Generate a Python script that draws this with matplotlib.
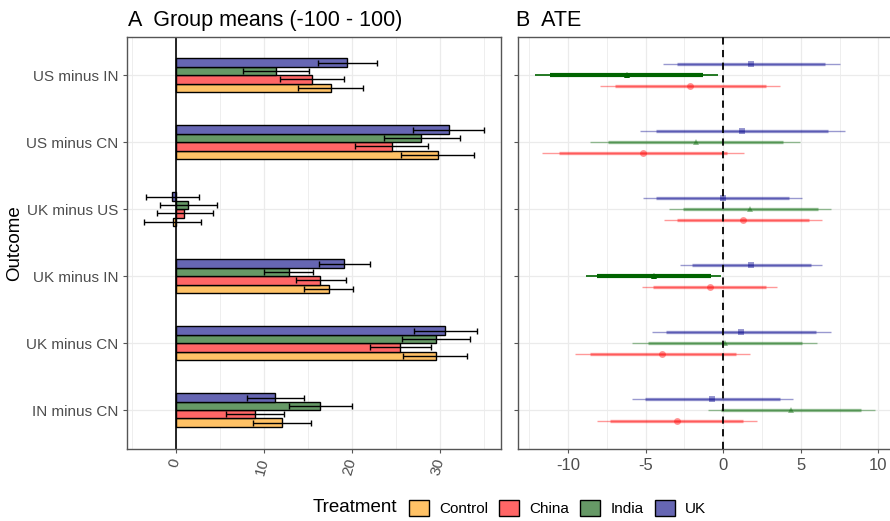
import numpy as np
import matplotlib
matplotlib.use("Agg")
import matplotlib.pyplot as plt
from matplotlib.patches import Patch

plt.rcParams['font.family'] = ['Liberation Sans', 'DejaVu Sans']
plt.rcParams['axes.unicode_minus'] = False

outcomes = ["US minus IN", "US minus CN", "UK minus US", "UK minus IN", "UK minus CN", "IN minus CN"]
treatments = ["Control", "China", "India", "UK"]

# panel A: group means with intervals (outcome order top to bottom)
control_mean = [17.6, 29.8, -0.3, 17.35, 29.5, 12.0]
control_lo = [13.9, 25.6, -3.6, 14.5, 25.8, 8.8]
control_hi = [21.3, 33.9, 2.9, 20.1, 33.1, 15.3]
china_mean = [15.45, 24.5, 0.95, 16.4, 25.5, 9.0]
china_lo = [11.8, 20.4, -2.2, 13.6, 22.0, 5.7]
china_hi = [19.1, 28.6, 4.2, 19.3, 29.0, 12.3]
india_mean = [11.4, 27.9, 1.4, 12.8, 29.6, 16.4]
india_lo = [7.65, 23.6, -1.8, 10.0, 25.7, 12.9]
india_hi = [15.1, 32.3, 4.7, 15.6, 33.4, 20.0]
uk_mean = [19.4, 31.0, -0.4, 19.1, 30.6, 11.3]
uk_lo = [16.1, 26.9, -3.45, 16.2, 27.0, 8.1]
uk_hi = [22.8, 35.0, 2.65, 22.1, 34.2, 14.6]

# panel B: ATE vs control, estimate + inner and outer intervals
china_est = [-2.15, -5.2, 1.27, -0.88, -3.93, -2.99]
china_lo_in = [-7.0, -10.6, -2.97, -4.52, -8.6, -7.31]
china_hi_in = [2.73, 0.24, 5.53, 2.78, 0.8, 1.29]
china_lo_out = [-7.95, -11.7, -3.83, -5.23, -9.55, -8.13]
china_hi_out = [3.68, 1.32, 6.35, 3.48, 1.72, 2.15]
india_est = [-6.23, -1.78, 1.72, -4.47, 0.11, 4.37]
india_lo_in = [-11.14, -7.46, -2.62, -8.13, -4.86, -0.15]
india_hi_in = [-1.29, 3.87, 6.09, -0.81, 5.1, 8.86]
india_lo_out = [-12.13, -8.58, -3.48, -8.86, -5.85, -0.99]
india_hi_out = [-0.32, 4.95, 6.95, -0.13, 6.07, 9.77]
uk_est = [1.81, 1.23, -0.04, 1.81, 1.14, -0.71]
uk_lo_in = [-2.97, -4.34, -4.34, -2.04, -3.7, -5.05]
uk_hi_in = [6.58, 6.75, 4.22, 5.66, 5.98, 3.64]
uk_lo_out = [-3.91, -5.39, -5.18, -2.8, -4.62, -5.89]
uk_hi_out = [7.53, 7.83, 5.06, 6.39, 6.95, 4.48]

fill_colors = {"Control": "#FFC266", "China": "#FF6666", "India": "#669966", "UK": "#6666B3"}
line_colors = {"China": "#FF0000", "India": "#006400", "UK": "#00008B"}
markers = {"China": "o", "India": "^", "UK": "s"}

border = "#555555"
grid_c = "#EBEBEB"
tick_c = "#4D4D4D"

fig = plt.figure(figsize=(8.9, 5.21), dpi=100)
axA = fig.add_axes([127.3 / 890, 1 - 449.3 / 521, 373.4 / 890, 412.3 / 521])
axB = fig.add_axes([518 / 890, 1 - 449.3 / 521, 374 / 890, 412.3 / 521])

y = np.arange(len(outcomes))[::-1] + 1.0

for ax in (axA, axB):
    ax.set_ylim(0.415, 6.57)
    ax.set_yticks(y)
    ax.grid(True, which='major', color=grid_c, lw=0.9)
    ax.grid(True, which='minor', axis='x', color=grid_c, lw=0.6)
    ax.set_axisbelow(True)
    for s in ax.spines.values():
        s.set_color(border)
        s.set_linewidth(1.0)
    ax.tick_params(which='major', length=3, color=border, labelcolor=tick_c, labelsize=11)
    ax.tick_params(which='minor', length=0)

# --- panel A
bar_h = 0.125
means = {"Control": control_mean, "China": china_mean, "India": india_mean, "UK": uk_mean}
los = {"Control": control_lo, "China": china_lo, "India": india_lo, "UK": uk_lo}
his = {"Control": control_hi, "China": china_hi, "India": india_hi, "UK": uk_hi}
for k, t in enumerate(treatments):
    yy = y + (k - 1.5) * bar_h
    m = np.array(means[t])
    axA.barh(yy, m, height=bar_h, color=fill_colors[t], edgecolor="black", linewidth=1.0, zorder=2)
    axA.errorbar(m, yy, xerr=[m - np.array(los[t]), np.array(his[t]) - m], fmt='none',
                 ecolor="black", elinewidth=1.0, capsize=2.5, capthick=1.0, zorder=3)
axA.axvline(0, color="black", lw=1.2, zorder=2.5)
axA.set_xlim(-5.53, 36.9)
axA.set_xticks([0, 10, 20, 30])
axA.set_xticks([-5, 5, 15, 25, 35], minor=True)
axA.set_yticklabels(outcomes)
for lab in axA.get_xticklabels():
    lab.set_rotation(75)
    lab.set_rotation_mode('anchor')
    lab.set_ha('right')
    lab.set_va('center')

# --- panel B
axB.axvline(0, color="black", lw=1.3, ls=(0, (4, 3)), zorder=4)
est = {"China": china_est, "India": india_est, "UK": uk_est}
lo_in = {"China": china_lo_in, "India": india_lo_in, "UK": uk_lo_in}
hi_in = {"China": china_hi_in, "India": india_hi_in, "UK": uk_hi_in}
lo_out = {"China": china_lo_out, "India": india_lo_out, "UK": uk_lo_out}
hi_out = {"China": china_hi_out, "India": india_hi_out, "UK": uk_hi_out}
offsets = {"China": -0.165, "India": 0.0, "UK": 0.165}
for t in ["China", "India", "UK"]:
    for i in range(len(outcomes)):
        yy = y[i] + offsets[t]
        sig = hi_out[t][i] < 0 or lo_out[t][i] > 0
        a = 1.0 if sig else 0.4
        c = line_colors[t]
        axB.plot([lo_out[t][i], hi_out[t][i]], [yy, yy], color=c, alpha=a, lw=1.2 if sig else 1.0,
                 solid_capstyle='butt', zorder=3)
        axB.plot([lo_in[t][i], hi_in[t][i]], [yy, yy], color=c, alpha=a, lw=3.0 if sig else 2.4,
                 solid_capstyle='butt', zorder=3)
        axB.plot(est[t][i], yy, marker=markers[t], color=c, alpha=a, ms=5, mew=0, zorder=3)
axB.set_xlim(-13.23, 10.88)
axB.set_xticks([-10, -5, 0, 5, 10])
axB.set_xticks([-12.5, -7.5, -2.5, 2.5, 7.5], minor=True)
axB.set_yticklabels([])
axB.tick_params(axis='x', labelsize=12)

# titles and labels
fig.text(128 / 890, 1 - 26 / 521, "A  Group means (-100 - 100)", fontsize=15.5, va='baseline', ha='left')
fig.text(516 / 890, 1 - 26 / 521, "B  ATE", fontsize=15.5, va='baseline', ha='left')
fig.text(15 / 890, 1 - 243 / 521, "Outcome", fontsize=13.5, rotation=90, va='center', ha='center')

# legend
fig.text(313 / 890, 1 - 508 / 521, "Treatment", fontsize=13.5, va='center', ha='left')
handles = [Patch(facecolor=fill_colors[t], edgecolor="black", linewidth=1.0) for t in treatments]
fig.legend(handles, treatments, loc='center left', bbox_to_anchor=(409 / 890, 1 - 508 / 521),
           ncol=4, frameon=False, fontsize=11, handlelength=1.3, handleheight=1.3,
           handletextpad=0.65, columnspacing=0.75, borderpad=0, borderaxespad=0)

fig.savefig("out.png", dpi=100)
